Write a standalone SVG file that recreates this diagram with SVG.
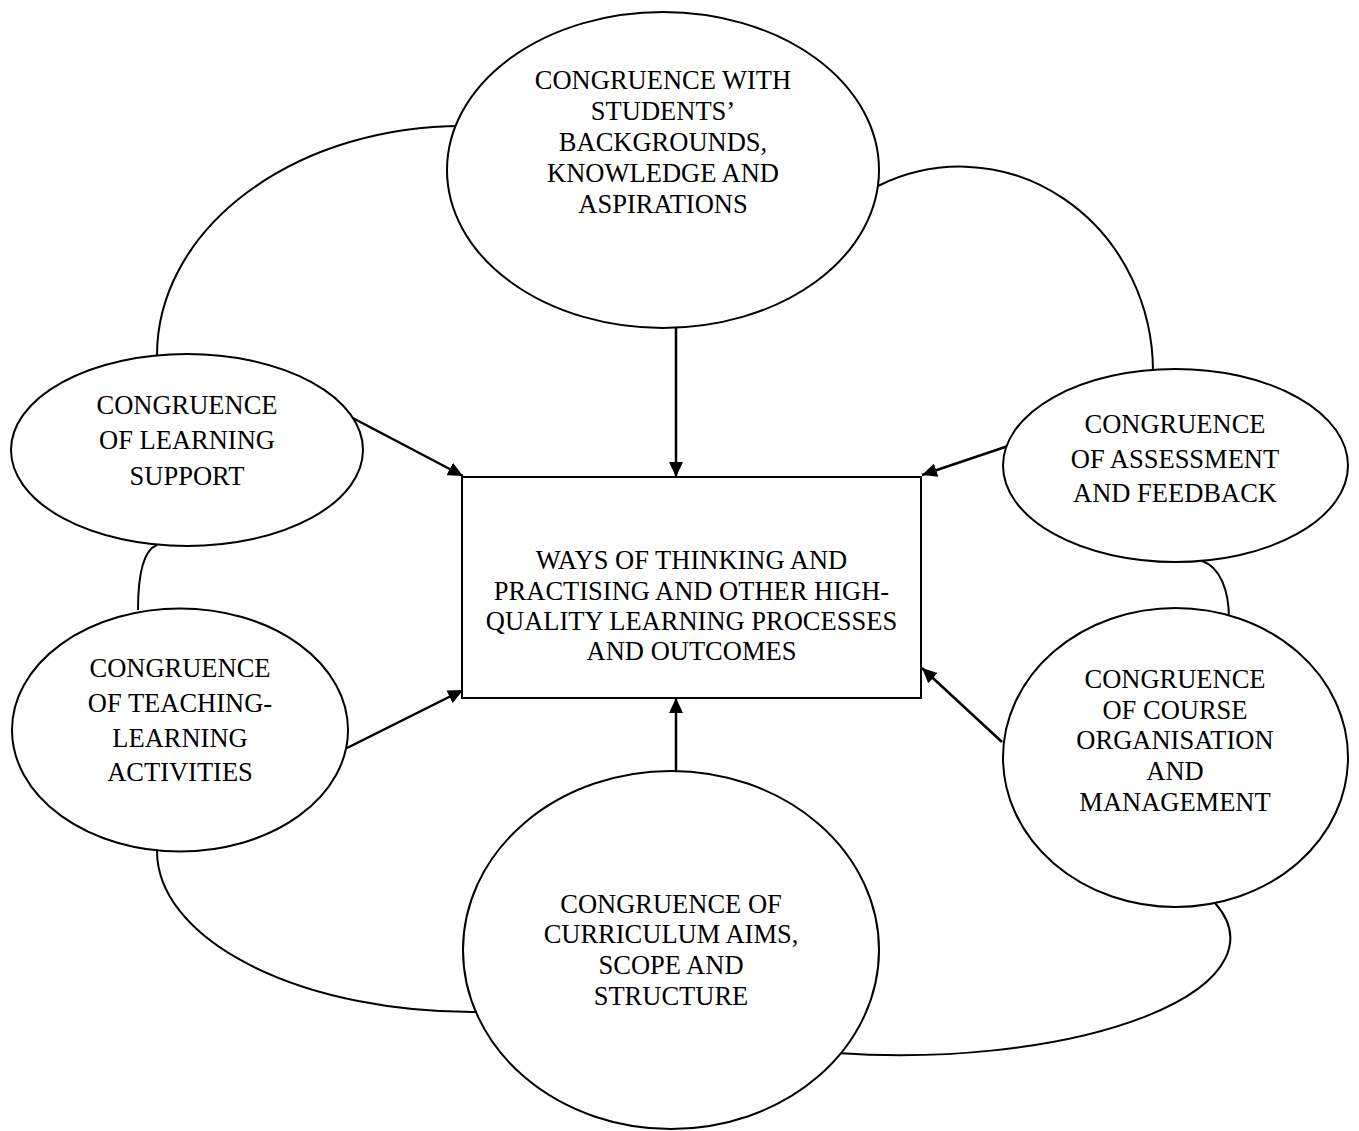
<svg xmlns="http://www.w3.org/2000/svg" width="1359" height="1131" viewBox="0 0 1359 1131">
<style>
  .node ellipse { fill: #fff; stroke: #000; stroke-width: 2; }
  .node rect { fill: #fff; stroke: #000; stroke-width: 2; }
  .node text { font-family: "Liberation Serif", "Times New Roman", serif; font-size: 26.5px; fill: #000; text-anchor: middle; }
  .link { fill: none; stroke: #000; stroke-width: 2; }
  .arrow { fill: none; stroke: #000; stroke-width: 2.5; marker-end: url(#ah); }
</style>
<defs>
  <marker id="ah" viewBox="0 0 15 14" refX="15" refY="7" markerWidth="15" markerHeight="14" markerUnits="userSpaceOnUse" orient="auto">
    <path d="M0,0 L15,7 L0,14 z" fill="#000"/>
  </marker>
</defs>
<rect width="1359" height="1131" fill="#fff"/>

<g id="connectors">
  <path class="link" d="M462,126 A305,229 0 0 0 157,355"/>
  <path class="link" d="M878,186 A193,205 0 0 1 1153,371"/>
  <path class="link" d="M157,545 C144,550 138,572 138,610"/>
  <path class="link" d="M1202,561 C1220,567 1229,590 1229,619"/>
  <path class="link" d="M157,851 A316,161 0 0 0 475,1012"/>
  <path class="link" d="M1215,903 A330,117 0 0 1 837,1053"/>
  <line class="arrow" x1="676" y1="328" x2="676" y2="477"/>
  <line class="arrow" x1="347" y1="415" x2="463" y2="476"/>
  <line class="arrow" x1="1017" y1="443" x2="922" y2="475"/>
  <line class="arrow" x1="347" y1="748" x2="463" y2="690"/>
  <line class="arrow" x1="1002" y1="742" x2="922" y2="668"/>
  <line class="arrow" x1="676" y1="771" x2="676" y2="698"/>
</g>

<g id="node-students" class="node">
  <ellipse cx="663" cy="170" rx="216" ry="158"/>
  <text x="663" y="89">CONGRUENCE WITH</text>
  <text x="663" y="120">STUDENTS’</text>
  <text x="663" y="151">BACKGROUNDS,</text>
  <text x="663" y="182">KNOWLEDGE AND</text>
  <text x="663" y="213">ASPIRATIONS</text>
</g>

<g id="node-support" class="node">
  <ellipse cx="187" cy="450" rx="176" ry="96"/>
  <text x="187" y="414">CONGRUENCE</text>
  <text x="187" y="449">OF LEARNING</text>
  <text x="187" y="485">SUPPORT</text>
</g>

<g id="node-teaching" class="node">
  <ellipse cx="180" cy="730" rx="168" ry="121.5"/>
  <text x="180" y="677">CONGRUENCE</text>
  <text x="180" y="712">OF TEACHING-</text>
  <text x="180" y="747">LEARNING</text>
  <text x="180" y="781">ACTIVITIES</text>
</g>

<g id="node-assessment" class="node">
  <ellipse cx="1175.5" cy="465.5" rx="172.5" ry="96.5"/>
  <text x="1175" y="433">CONGRUENCE</text>
  <text x="1175" y="468">OF ASSESSMENT</text>
  <text x="1175" y="502">AND FEEDBACK</text>
</g>

<g id="node-course" class="node">
  <ellipse cx="1175.5" cy="757.5" rx="172.5" ry="149.5"/>
  <text x="1175" y="688">CONGRUENCE</text>
  <text x="1175" y="719">OF COURSE</text>
  <text x="1175" y="749">ORGANISATION</text>
  <text x="1175" y="780">AND</text>
  <text x="1175" y="811">MANAGEMENT</text>
</g>

<g id="node-curriculum" class="node">
  <ellipse cx="671" cy="950" rx="208" ry="179"/>
  <text x="671" y="913">CONGRUENCE OF</text>
  <text x="671" y="943">CURRICULUM AIMS,</text>
  <text x="671" y="974">SCOPE AND</text>
  <text x="671" y="1005">STRUCTURE</text>
</g>

<g id="node-outcomes" class="node">
  <rect x="462" y="477" width="459" height="221"/>
  <text x="691.5" y="569">WAYS OF THINKING AND</text>
  <text x="691.5" y="599.5">PRACTISING AND OTHER HIGH-</text>
  <text x="691.5" y="630">QUALITY LEARNING PROCESSES</text>
  <text x="691.5" y="660">AND OUTCOMES</text>
</g>
</svg>
